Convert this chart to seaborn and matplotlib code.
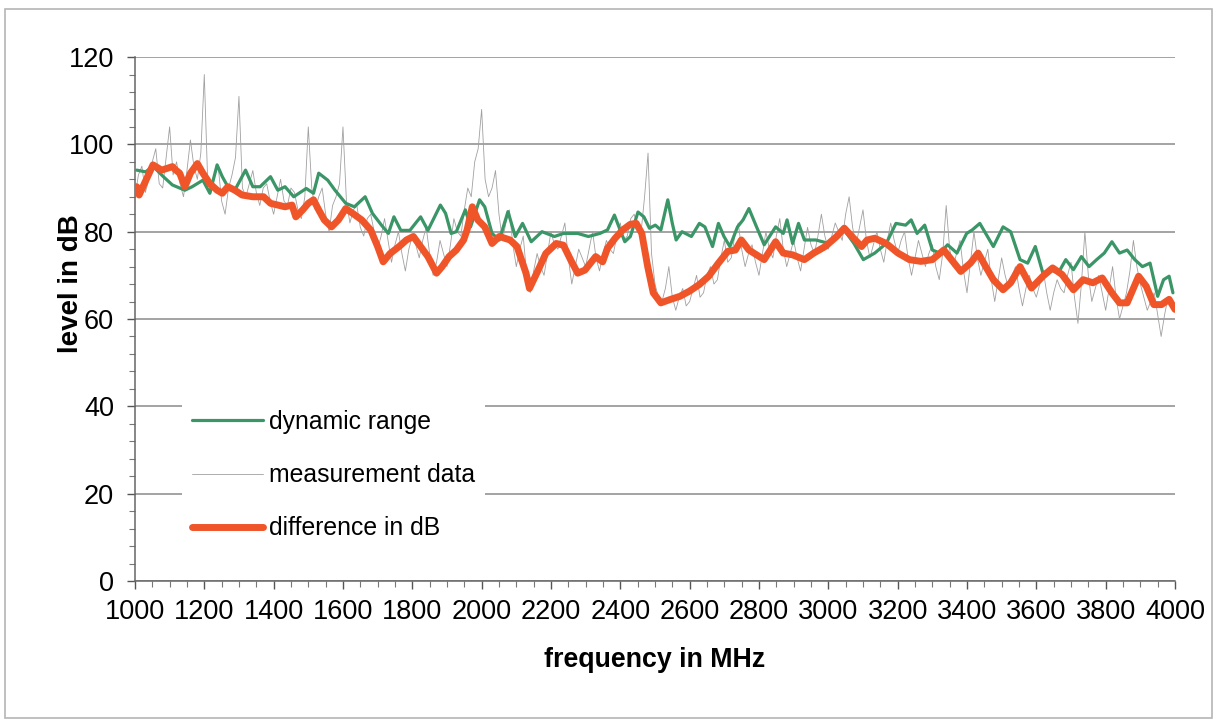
import matplotlib.pyplot as plt
import numpy as np
import pandas as pd
import seaborn as sns
from matplotlib.patches import Rectangle
from matplotlib.ticker import MultipleLocator

# dynamic range (green)
dyn_freq = [1005, 1031, 1052, 1082, 1108, 1144, 1165, 1196, 1216, 1237, 1252, 1268, 1288, 1319, 1340,
            1361, 1391, 1412, 1433, 1458, 1494, 1515, 1530, 1556, 1577, 1608, 1633, 1664, 1685, 1711,
            1731, 1747, 1767, 1793, 1824, 1845, 1881, 1896, 1912, 1927, 1953, 1968, 1994, 2009, 2030,
            2051, 2076, 2097, 2118, 2143, 2174, 2210, 2236, 2277, 2308, 2341, 2363, 2383, 2396, 2413,
            2429, 2451, 2468, 2484, 2501, 2517, 2537, 2550, 2561, 2578, 2605, 2628, 2644, 2666, 2683,
            2699, 2716, 2738, 2754, 2771, 2793, 2815, 2848, 2870, 2881, 2897, 2914, 2931, 2964, 3002,
            3046, 3074, 3101, 3134, 3167, 3195, 3223, 3239, 3256, 3278, 3300, 3322, 3344, 3371, 3399,
            3415, 3437, 3454, 3476, 3504, 3526, 3553, 3575, 3597, 3619, 3641, 3663, 3685, 3707, 3730,
            3752, 3774, 3796, 3818, 3840, 3862, 3884, 3906, 3928, 3950, 3967, 3983, 3994]
dyn_level = [94.1, 93.7, 95.0, 92.6, 90.7, 89.5, 90.3, 91.8, 88.8, 95.3, 92.6, 90.3, 89.5, 94.1, 90.3,
             90.3, 92.6, 89.5, 90.3, 88.0, 89.9, 88.8, 93.4, 91.8, 89.5, 86.5, 85.7, 88.0, 84.2, 81.5,
             79.6, 83.4, 80.3, 80.3, 83.4, 80.3, 86.1, 84.2, 79.6, 80.0, 85.0, 81.1, 87.3, 85.7, 79.6,
             78.1, 84.6, 78.9, 81.9, 77.7, 80.0, 78.9, 79.6, 79.6, 78.9, 79.6, 80.4, 83.8, 81.1, 77.7,
             78.9, 84.5, 83.4, 80.8, 81.5, 80.4, 87.3, 81.9, 78.1, 80.0, 78.9, 81.9, 81.1, 76.6, 81.9,
             78.9, 76.6, 81.1, 82.7, 85.3, 81.1, 77.0, 81.1, 79.6, 82.7, 77.3, 81.9, 78.1, 78.1, 77.3,
             80.4, 77.3, 73.6, 75.1, 77.3, 81.9, 81.5, 82.7, 79.6, 81.5, 75.8, 75.1, 77.0, 75.1, 79.6,
             80.4, 81.9, 79.6, 76.6, 81.1, 80.0, 73.6, 72.8, 76.6, 70.5, 71.3, 70.5, 73.6, 71.3, 74.3,
             72.0, 73.6, 75.1, 77.7, 75.1, 75.8, 73.6, 72.0, 72.8, 65.2, 69.0, 69.8, 66.0]

# difference in dB (red)
diff_freq = [1000, 1005, 1012, 1052, 1077, 1108, 1118, 1129, 1144, 1160, 1180, 1196, 1216, 1237, 1252,
             1268, 1288, 1309, 1340, 1371, 1391, 1412, 1433, 1453, 1464, 1484, 1500, 1515, 1530, 1546,
             1567, 1587, 1608, 1628, 1654, 1680, 1700, 1716, 1736, 1762, 1783, 1803, 1824, 1845, 1870,
             1886, 1906, 1927, 1948, 1958, 1973, 1989, 2009, 2030, 2051, 2082, 2102, 2128, 2138, 2159,
             2185, 2215, 2236, 2257, 2277, 2298, 2329, 2349, 2363, 2385, 2407, 2429, 2446, 2462, 2479,
             2495, 2517, 2545, 2572, 2600, 2628, 2655, 2683, 2710, 2732, 2749, 2771, 2793, 2815, 2848,
             2870, 2897, 2931, 2958, 2991, 3024, 3046, 3068, 3096, 3112, 3134, 3167, 3201, 3234, 3267,
             3300, 3333, 3355, 3382, 3410, 3432, 3454, 3476, 3504, 3526, 3553, 3586, 3619, 3647, 3674,
             3707, 3735, 3763, 3790, 3818, 3840, 3862, 3895, 3917, 3939, 3961, 3983, 4000]
diff_level = [89.5, 90.3, 88.4, 95.3, 94.1, 94.9, 94.1, 93.4, 90.3, 93.4, 95.6, 93.4, 91.0, 89.5, 88.8,
              90.3, 89.5, 88.4, 88.0, 88.0, 86.5, 86.1, 85.7, 86.1, 83.4, 85.0, 86.5, 87.3, 85.0, 82.7,
              81.1, 82.7, 85.3, 84.2, 82.7, 80.4, 76.6, 73.1, 75.0, 76.6, 78.1, 78.9, 76.6, 74.3, 70.5,
              72.0, 74.3, 75.8, 78.1, 80.4, 85.7, 82.7, 81.1, 77.3, 78.9, 78.1, 76.6, 70.5, 67.0, 70.5,
              75.0, 77.3, 76.9, 73.5, 70.5, 71.2, 74.3, 73.1, 76.2, 78.5, 80.4, 81.7, 81.9, 79.6, 72.0,
              66.0, 63.7, 64.5, 65.2, 66.4, 67.9, 69.8, 72.8, 75.5, 75.8, 78.1, 75.8, 74.7, 73.6, 77.7,
              75.1, 74.7, 73.6, 75.1, 76.6, 78.9, 80.8, 78.9, 76.6, 78.1, 78.5, 77.3, 75.1, 73.6, 73.2,
              73.6, 75.8, 73.6, 70.9, 72.8, 75.1, 72.0, 69.0, 66.7, 68.3, 72.0, 67.1, 69.8, 71.7, 70.2,
              66.7, 69.0, 68.3, 69.4, 66.0, 63.7, 63.7, 69.8, 67.5, 63.3, 63.3, 64.5, 62.2]

# measurement data (grey, noisy), one value every 10 MHz, one row per 200 MHz
meas_freq = np.arange(1000, 4001, 10)
meas_level = [
    88, 93, 95, 89, 92, 96, 99, 91, 90, 97, 104, 93, 96, 91, 88, 94, 101, 95, 92, 98,
    116, 91, 89, 93, 95, 87, 84, 90, 93, 97, 111, 90, 88, 91, 94, 89, 86, 90, 91, 87,
    84, 88, 92, 87, 86, 90, 89, 85, 83, 88, 104, 90, 85, 88, 90, 84, 80, 86, 88, 91,
    104, 87, 82, 85, 86, 81, 79, 83, 84, 80, 76, 79, 83, 78, 73, 77, 80, 75, 71, 76,
    79, 77, 74, 78, 81, 75, 70, 73, 78, 75, 72, 77, 83, 80, 79, 85, 90, 88, 96, 99,
    108, 92, 88, 90, 94, 84, 78, 82, 85, 77, 72, 76, 79, 70, 66, 71, 75, 72, 70, 75,
    80, 77, 76, 79, 82, 74, 68, 72, 76, 74, 72, 76, 80, 74, 71, 75, 78, 76, 75, 79,
    82, 78, 79, 83, 84, 81, 80, 88, 98, 75, 68, 65, 64, 67, 72, 65, 62, 65, 67, 63,
    64, 67, 70, 65, 66, 70, 72, 68, 69, 74, 78, 73, 74, 79, 82, 76, 72, 75, 77, 73,
    70, 75, 80, 76, 74, 79, 83, 76, 72, 75, 78, 74, 71, 76, 81, 77, 75, 79, 84, 79,
    76, 79, 82, 80, 78, 84, 88, 81, 77, 81, 85, 78, 74, 77, 80, 76, 73, 78, 82, 78,
    75, 78, 80, 74, 70, 74, 78, 75, 72, 75, 77, 72, 69, 75, 86, 76, 72, 75, 78, 71,
    66, 73, 80, 74, 70, 73, 76, 69, 64, 69, 74, 70, 67, 70, 72, 67, 63, 67, 70, 67,
    65, 68, 71, 66, 62, 66, 69, 67, 66, 70, 73, 65, 59, 68, 80, 70, 64, 67, 70, 66,
    62, 67, 72, 65, 60, 63, 66, 71, 78, 72, 68, 65, 62, 64, 66, 61, 56, 61, 65, 63,
    62,
]

meas = pd.DataFrame({"freq": meas_freq, "level": meas_level})
dyn = pd.DataFrame({"freq": dyn_freq, "level": dyn_level})
diff = pd.DataFrame({"freq": diff_freq, "level": diff_level})

sns.set_theme(style="white")
plt.rcParams["font.family"] = ["Liberation Sans", "DejaVu Sans"]
plt.rcParams["text.color"] = "black"
plt.rcParams["axes.labelcolor"] = "black"
plt.rcParams["xtick.color"] = "black"
plt.rcParams["ytick.color"] = "black"

fig = plt.figure(figsize=(12.18, 7.22), dpi=100)
ax = fig.add_axes([0.1108, 0.1953, 0.8539, 0.7257])

# chart border like the spreadsheet export
fig.patches.append(Rectangle((0.004, 0.006), 0.991, 0.982, transform=fig.transFigure,
                             fill=False, edgecolor="#b5b5b5", linewidth=1.2))

ax.yaxis.grid(True, color="#8a8a8a", linewidth=1.1)
ax.set_axisbelow(True)

sns.lineplot(data=meas, x="freq", y="level", ax=ax, color="#a0a0a0", linewidth=0.6,
             label="measurement data", zorder=2)
sns.lineplot(data=dyn, x="freq", y="level", ax=ax, color="#3a9567", linewidth=2.3,
             label="dynamic range", zorder=3)
sns.lineplot(data=diff, x="freq", y="level", ax=ax, color="#f0552a", linewidth=5,
             label="difference in dB", zorder=4)

ax.set_xlim(1000, 4000)
ax.set_ylim(0, 120)
ax.xaxis.set_major_locator(MultipleLocator(200))
ax.xaxis.set_minor_locator(MultipleLocator(50))
ax.yaxis.set_major_locator(MultipleLocator(20))
ax.yaxis.set_minor_locator(MultipleLocator(4))
ax.tick_params(axis="both", which="major", direction="out", length=6, width=1,
               color="#555555", labelsize=19.5, bottom=True, left=True)
ax.tick_params(axis="x", which="major", pad=7)
ax.tick_params(axis="y", which="major", pad=9)
ax.tick_params(axis="both", which="minor", direction="out", length=4, width=0.8,
               color="#777777", bottom=True, left=True)

for side in ["top", "right"]:
    ax.spines[side].set_visible(False)
for side in ["left", "bottom"]:
    ax.spines[side].set_color("#666666")
    ax.spines[side].set_linewidth(1.1)

ax.set_xlabel("frequency in MHz", fontsize=19.3, fontweight="bold", labelpad=16)
ax.set_ylabel("level in dB", fontsize=20, fontweight="bold")
ax.yaxis.set_label_coords(-0.049, 0.567)

handles, labels = ax.get_legend_handles_labels()
order = [1, 0, 2]
leg = ax.legend([handles[i] for i in order], [labels[i] for i in order],
                loc="center left", bbox_to_anchor=(0.033, 0.202), fontsize=17.8,
                handlelength=2.9, handletextpad=0.22, labelspacing=1.18,
                frameon=True, facecolor="white", framealpha=1, borderpad=0.4)
leg.get_frame().set_linewidth(0)
leg.set_zorder(5)

fig.savefig("out.png", dpi=100)
